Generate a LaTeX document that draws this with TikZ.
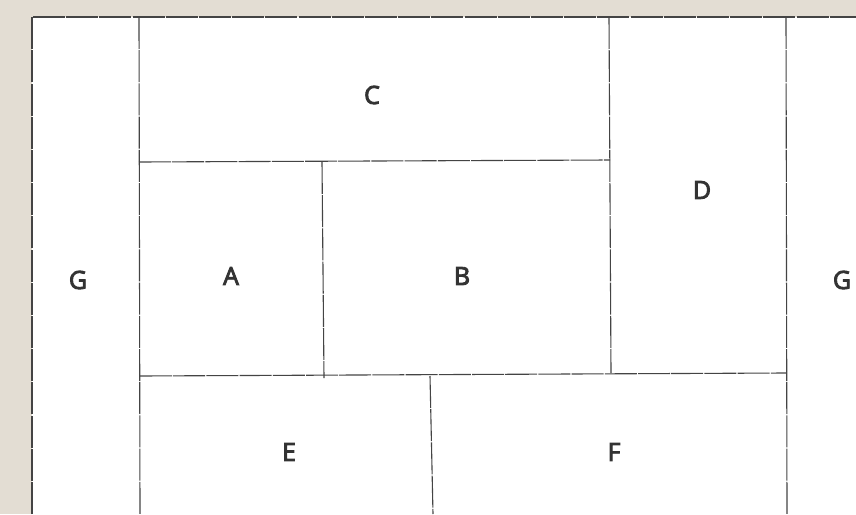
\documentclass[tikz,border=0pt]{standalone}
\usepackage{fontspec}
\setmainfont{Open Sans}
\newfontfamily\roomfont{Open Sans}[FakeBold=3.5]
\usetikzlibrary{positioning}
\definecolor{paper}{HTML}{E3DDD3}
\definecolor{pencil}{HTML}{444444}
\definecolor{ink}{HTML}{333333}

\begin{document}
\begin{tikzpicture}[x=0.5pt, y=-0.5pt,
        wall/.style={draw=pencil, line width=0.55pt, dash pattern=on 16pt off 0.6pt},
        room/.style={font=\roomfont\fontsize{12.5}{14}\selectfont, text=ink}]
        % Paper and sheet
        \fill[paper] (0,0) rectangle (856,514);
        \fill[white] (32,17) rectangle (856,514);
        \useasboundingbox (0,0) rectangle (856,514);

        % Wall positions
        \def\xLeft{32}
        \def\xG{139}
        \def\xAB{322}
        \def\xEF{430}
        \def\xD{610}
        \def\xRight{786}
        \def\yTop{17}
        \def\yC{162}
        \def\yE{375}

        % Outer walls
        \draw[wall] (\xLeft,514) -- (\xLeft,\yTop) -- (856,\yTop);

        % Long walls
        \draw[wall] (\xG,\yTop) -- (\xG+1,514);
        \draw[wall] (\xRight,\yTop) -- (\xRight+1,514);
        \draw[wall] (\xD-1,\yTop) -- (\xD+1,\yE-2);

        % Cross walls
        \draw[wall] (\xG,\yC) -- (\xD,\yC-2);
        \draw[wall] (\xG+1,\yE+1) -- (\xRight,\yE-2);
        \draw[wall] (\xAB,\yC) -- (\xAB+2,\yE+3);
        \draw[wall] (\xEF,\yE+1) -- (\xEF+3,514);

        % Rooms
        \node[room] (g1) at (78,280) {G};
        \node[room] (c) at (372,95) {C};
        \node[room] (a) at (231,276) {A};
        \node[room] (b) at (462,276) {B};
        \node[room] (d) at (702,190) {D};
        \node[room] (e) at (289,452) {E};
        \node[room] (f) at (614,452) {F};
        \node[room] (g2) at (842,280) {G};
    \end{tikzpicture}
\end{document}
